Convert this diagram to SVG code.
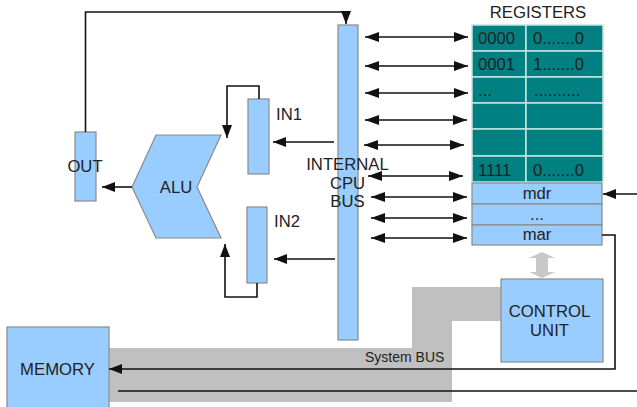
<svg xmlns="http://www.w3.org/2000/svg" width="637" height="407" viewBox="0 0 637 407">
  <style>
    .blk { fill: #99ccff; stroke: #8a8a8a; stroke-width: 1.2; }
    .reg { fill: #008080; stroke: #c4e4e4; stroke-width: 1.5; }
    .lbl { font-family: "Liberation Sans", Arial, sans-serif; font-size: 16.7px; fill: #222222; }
    .mid { text-anchor: middle; }
    .wire { fill: none; stroke: #111111; stroke-width: 1.6; }
    .wire-end { fill: none; stroke: #111111; stroke-width: 1.6; marker-end: url(#head); }
    .wire-both { fill: none; stroke: #111111; stroke-width: 1.6; marker-start: url(#head2); marker-end: url(#head2); }
  </style>
  <defs>
    <marker id="head" viewBox="0 0 13 10" refX="13" refY="5" markerWidth="13" markerHeight="10" markerUnits="userSpaceOnUse" orient="auto">
      <path d="M0,0 L13,5 L0,10 z" fill="#111111"/>
    </marker>
    <marker id="head2" viewBox="0 0 14 10" refX="14" refY="5" markerWidth="14" markerHeight="10" markerUnits="userSpaceOnUse" orient="auto-start-reverse">
      <path d="M0,0 L14,5 L0,10 z" fill="#111111"/>
    </marker>
  </defs>

  <!-- system bus band -->
  <g id="system-bus">
    <polygon points="109,348 412,348 412,287 501,287 501,321 452,321 452,402 109,402" fill="#c0c0c0"/>
    <text class="lbl" x="365" y="362" style="font-size:14px">System BUS</text>
  </g>

  <!-- internal CPU bus -->
  <g id="internal-bus">
    <rect class="blk" x="338" y="25" width="20" height="315"/>
    <text class="lbl mid" x="347.5" y="169.5">INTERNAL</text>
    <text class="lbl mid" x="347.5" y="188.5">CPU</text>
    <text class="lbl mid" x="347.5" y="207">BUS</text>
  </g>

  <g id="out">
    <rect class="blk" x="75" y="132" width="21" height="69"/>
    <text class="lbl mid" x="85" y="172">OUT</text>
  </g>

  <g id="alu">
    <polygon class="blk" points="156,135 221,135 197,187 221,238 156,238 132,187"/>
    <text class="lbl mid" x="176" y="193">ALU</text>
  </g>

  <g id="in1">
    <rect class="blk" x="248" y="99" width="21" height="75"/>
    <text class="lbl" x="276" y="120">IN1</text>
  </g>

  <g id="in2">
    <rect class="blk" x="247" y="207" width="20" height="76"/>
    <text class="lbl" x="274" y="227">IN2</text>
  </g>

  <g id="registers">
    <text class="lbl mid" x="538" y="17.5">REGISTERS</text>
    <rect class="reg" x="472" y="25" width="54" height="26"/>
    <rect class="reg" x="526" y="25" width="77" height="26"/>
    <rect class="reg" x="472" y="51" width="54" height="26"/>
    <rect class="reg" x="526" y="51" width="77" height="26"/>
    <rect class="reg" x="472" y="77" width="54" height="26"/>
    <rect class="reg" x="526" y="77" width="77" height="26"/>
    <rect class="reg" x="472" y="103" width="54" height="26"/>
    <rect class="reg" x="526" y="103" width="77" height="26"/>
    <rect class="reg" x="472" y="129" width="54" height="27"/>
    <rect class="reg" x="526" y="129" width="77" height="27"/>
    <rect class="reg" x="472" y="156" width="54" height="26"/>
    <rect class="reg" x="526" y="156" width="77" height="26"/>
    <text class="lbl" x="478" y="44">0000</text>
    <text class="lbl" x="533" y="44">0.......0</text>
    <text class="lbl" x="478" y="70">0001</text>
    <text class="lbl" x="533" y="70">1.......0</text>
    <text class="lbl" x="478" y="96">...</text>
    <text class="lbl" x="534" y="96">..........</text>
    <text class="lbl" x="478" y="175.5">1111</text>
    <text class="lbl" x="533" y="175.5">0.......0</text>
  </g>

  <g id="mdr-mar">
    <rect class="blk" x="472" y="183" width="130" height="21"/>
    <rect class="blk" x="472" y="204" width="130" height="21"/>
    <rect class="blk" x="472" y="225" width="130" height="20"/>
    <text class="lbl mid" x="537" y="199">mdr</text>
    <text class="lbl mid" x="537" y="220">...</text>
    <text class="lbl mid" x="537" y="240">mar</text>
  </g>

  <g id="control-unit">
    <rect class="blk" x="501" y="279" width="102" height="83"/>
    <text class="lbl mid" x="549.5" y="317">CONTROL</text>
    <text class="lbl mid" x="549.5" y="335.5">UNIT</text>
  </g>

  <g id="memory">
    <rect class="blk" x="7" y="327" width="102" height="84"/>
    <text class="lbl mid" x="57.5" y="375">MEMORY</text>
  </g>

  <g id="connectors">
    <!-- OUT back to the internal bus -->
    <path class="wire-end" d="M85.5,132 V12 H346 V24"/>
    <!-- ALU result to OUT -->
    <path class="wire-end" d="M132,187 H102"/>
    <!-- bus to IN1 / IN2 -->
    <path class="wire-end" d="M334,142 H273"/>
    <path class="wire-end" d="M335,259 H274"/>
    <!-- IN1 / IN2 into ALU -->
    <path class="wire-end" d="M259,99 V86 H227 V138"/>
    <path class="wire-end" d="M257,283 V297 H225 V244"/>
    <!-- bus to registers and mdr/mar -->
    <path class="wire-both" d="M365,37 H468"/>
    <path class="wire-both" d="M365,66 H468"/>
    <path class="wire-both" d="M365,93 H468"/>
    <path class="wire-both" d="M365,120 H467"/>
    <path class="wire-both" d="M364,145 H464"/>
    <path class="wire-both" d="M368,176 H463"/>
    <path class="wire-both" d="M371,197 H467"/>
    <path class="wire-both" d="M371,218 H467"/>
    <path class="wire-both" d="M371,238 H467"/>
    <!-- external line into mdr -->
    <path class="wire-end" d="M637,194 H603"/>
    <!-- mar out to memory -->
    <path class="wire-end" d="M602,235 H615 V369 H109"/>
    <!-- data line along the system bus -->
    <path class="wire" d="M118,391 H637"/>
    <!-- control unit link to mdr/mar -->
    <polygon points="542,252 555,258 548,258 548,272 555,272 542,278 529,272 536,272 536,258 529,258" fill="#c8c8c8"/>
  </g>
</svg>
